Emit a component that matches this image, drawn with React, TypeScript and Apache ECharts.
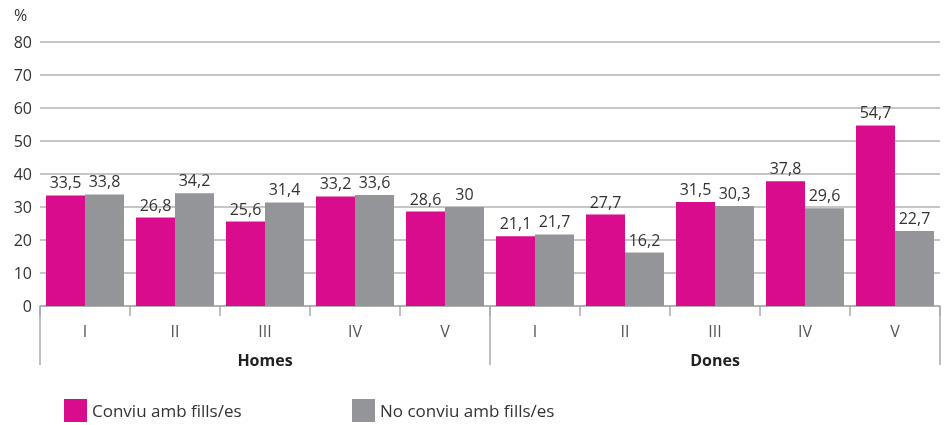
import React, { useEffect, useRef } from "react";
import * as echarts from "echarts";

const categories = ["I", "II", "III", "IV", "V", "I", "II", "III", "IV", "V"];
const groups = ["Homes", "Dones"];
const seriesNames = ["Conviu amb fills/es", "No conviu amb fills/es"];
const withChildren = [33.5, 26.8, 25.6, 33.2, 28.6, 21.1, 27.7, 31.5, 37.8, 54.7];
const withoutChildren = [33.8, 34.2, 31.4, 33.6, 30, 21.7, 16.2, 30.3, 29.6, 22.7];
const yTicks = { min: 0, max: 80, interval: 10 };

const PINK = "#d80c8c";
const GRAY = "#939598";
const FONT = "'Open Sans', sans-serif";

export default function App() {
  const ref = useRef<HTMLDivElement>(null);
  useEffect(() => {
    if (!ref.current) return;
    const chart = echarts.init(ref.current, undefined, { renderer: "svg" });
    const label = {
      show: true,
      position: "top",
      distance: 5,
      color: "#333",
      fontSize: 16,
      fontFamily: FONT,
      formatter: (p: any) => String(p.value).replace(".", ","),
    };
    const legendText = { fontSize: 17, lineHeight: 18, color: "#333", fontFamily: FONT };
    chart.setOption({
      animation: false,
      textStyle: { fontFamily: FONT },
      grid: { left: 40, right: 4, top: 42, bottom: 119 },
      graphic: [
        {
          type: "text",
          left: 14,
          top: 7,
          style: { text: "%", fontSize: 16, fill: "#333", fontFamily: FONT },
        },
      ],
      legend: [
        {
          left: 64,
          top: 399,
          padding: 0,
          itemWidth: 23,
          itemHeight: 23,
          icon: "rect",
          data: [seriesNames[0]],
          textStyle: legendText,
        },
        {
          left: 352,
          top: 399,
          padding: 0,
          itemWidth: 23,
          itemHeight: 23,
          icon: "rect",
          data: [seriesNames[1]],
          textStyle: legendText,
        },
      ],
      xAxis: [
        {
          type: "category",
          data: categories,
          position: "bottom",
          axisLine: { show: true, lineStyle: { color: "#aaa", width: 1.5 } },
          axisTick: { show: true, length: 10, lineStyle: { color: "#aaa", width: 1.5 } },
          axisLabel: { margin: 17, fontSize: 16, color: "#555", fontFamily: FONT },
        },
        {
          type: "category",
          data: groups,
          position: "bottom",
          axisLine: { show: false },
          axisTick: { show: true, length: 59, lineStyle: { color: "#aaa", width: 1.5 } },
          axisLabel: {
            margin: 46,
            fontSize: 16,
            fontWeight: "bold",
            color: "#222",
            fontFamily: FONT,
          },
        },
      ],
      yAxis: {
        type: "value",
        min: yTicks.min,
        max: yTicks.max,
        interval: yTicks.interval,
        axisLine: { show: false },
        axisTick: { show: false },
        axisLabel: { margin: 8, fontSize: 16, color: "#333", fontFamily: FONT },
        splitLine: { lineStyle: { color: "#b3b3b3", width: 1.5 } },
      },
      series: [
        {
          name: seriesNames[0],
          type: "bar",
          data: withChildren,
          itemStyle: { color: PINK },
          barWidth: 39,
          barGap: "0%",
          label,
        },
        {
          name: seriesNames[1],
          type: "bar",
          data: withoutChildren,
          itemStyle: { color: GRAY },
          barWidth: 39,
          barGap: "0%",
          label,
        },
      ],
    });
    return () => chart.dispose();
  }, []);
  return (
    <div
      ref={ref}
      style={{ position: "fixed", left: 0, top: 0, width: 944, height: 425 }}
    />
  );
}
